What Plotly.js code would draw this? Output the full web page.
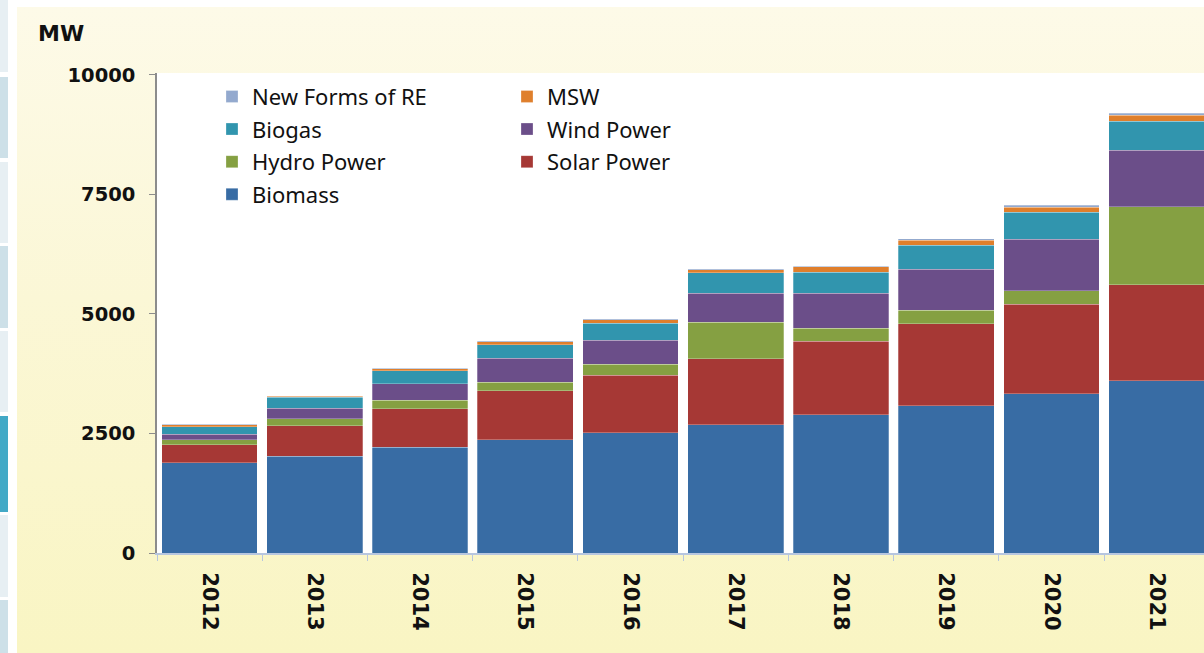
<!DOCTYPE html>
<html>
<head>
<meta charset="utf-8">
<script src="https://cdn.plot.ly/plotly-3.0.1.min.js"></script>
<style>
  html, body { margin: 0; padding: 0; width: 1204px; height: 653px; overflow: hidden; background: #ffffff; }
  #bg { position: absolute; left: 17px; top: 7px; right: 0; bottom: 0;
        background: linear-gradient(to bottom, #fdfae8 0%, #fbf7d6 45%, #f9f5c3 100%); }
  .strip { position: absolute; left: 0; width: 8px; }
  #chart { position: absolute; left: 0; top: 0; width: 1204px; height: 653px; }
</style>
</head>
<body>
<div id="bg"></div>
<div class="strip" style="top:0;height:72px;background:#e7eff3"></div>
<div class="strip" style="top:77px;height:81px;background:#cde0e8"></div>
<div class="strip" style="top:162px;height:81px;background:#e7eff3"></div>
<div class="strip" style="top:246px;height:82px;background:#cde0e8"></div>
<div class="strip" style="top:331px;height:81px;background:#e7eff3"></div>
<div class="strip" style="top:416px;height:96px;background:#42a9c6"></div>
<div class="strip" style="top:515px;height:82px;background:#e7eff3"></div>
<div class="strip" style="top:600px;height:53px;background:#cde0e8"></div>
<div id="chart"></div>
<script>
const years = ['2012','2013','2014','2015','2016','2017','2018','2019','2020','2021'];
const biomass = [1889, 2029, 2207, 2364, 2517, 2678, 2887, 3079, 3331, 3605];
const solar   = [377, 628, 810, 1031, 1201, 1385, 1544, 1715, 1877, 2008];
const hydro   = [98, 146, 178, 176, 230, 759, 266, 280, 280, 1634];
const wind    = [119, 230, 341, 502, 502, 607, 732, 858, 1079, 1182];
const biogas  = [159, 224, 272, 278, 356, 429, 444, 510, 561, 607];
const msw     = [40, 25, 42, 70, 75, 70, 110, 105, 105, 119];
const newre   = [10, 10, 15, 15, 15, 20, 20, 25, 40, 44];
const yTicks  = [0, 2500, 5000, 7500, 10000];

const series = [
  {name: 'Biomass',         y: biomass, color: '#386ca4', legend: 'legend',  rank: 4},
  {name: 'Solar Power',     y: solar,   color: '#a63835', legend: 'legend2', rank: 3},
  {name: 'Hydro Power',     y: hydro,   color: '#85a042', legend: 'legend',  rank: 3},
  {name: 'Wind Power',      y: wind,    color: '#6b4e89', legend: 'legend2', rank: 2},
  {name: 'Biogas',          y: biogas,  color: '#3195ae', legend: 'legend',  rank: 2},
  {name: 'MSW',             y: msw,     color: '#df7f2c', legend: 'legend2', rank: 1},
  {name: 'New Forms of RE', y: newre,   color: '#93a9ce', legend: 'legend',  rank: 1}
];

const traces = series.map(s => ({
  type: 'bar',
  x: years,
  y: s.y,
  name: s.name,
  legend: s.legend,
  legendgroup: s.name,
  legendrank: s.rank,
  marker: {color: s.color, line: {color: 'rgba(255,255,255,0.45)', width: 0.6}},
  hoverinfo: 'x+y+name'
}));

const legendFont = {family: 'Noto Sans, sans-serif', size: 22, color: '#111111'};
const xTickFont = {family: 'DejaVu Sans, sans-serif', size: 21, color: '#111111', weight: 'bold'};
const yTickFont = {family: 'DejaVu Sans, sans-serif', size: 19.5, color: '#111111', weight: 'bold'};

const layout = {
  width: 1204,
  height: 653,
  margin: {l: 157, r: 0, t: 73, b: 100},
  paper_bgcolor: 'rgba(0,0,0,0)',
  plot_bgcolor: '#ffffff',
  barmode: 'stack',
  bargap: 0.09,
  showlegend: true,
  xaxis: {
    type: 'category',
    range: [-0.5, 9.45],
    tickangle: 90,
    tickfont: xTickFont,
    ticks: 'outside',
    tickson: 'boundaries',
    ticklen: 6,
    tickcolor: '#b7c6df',
    showline: true,
    linecolor: '#b7c6df',
    linewidth: 2,
    showgrid: false,
    zeroline: false,
    ticklabelstandoff: 13,
    fixedrange: true
  },
  yaxis: {
    range: [0, 10040],
    tickvals: yTicks,
    ticktext: yTicks.map(String),
    tickfont: yTickFont,
    ticks: 'outside',
    ticklen: 6,
    tickcolor: '#8c8c8c',
    showline: true,
    linecolor: '#8c8c8c',
    linewidth: 1.5,
    showgrid: false,
    zeroline: false,
    ticklabelstandoff: 10,
    fixedrange: true
  },
  legend: {
    x: (212 - 157) / 1047, xanchor: 'left',
    y: 0.9945, yanchor: 'top',
    orientation: 'v',
    traceorder: 'grouped',
    tracegroupgap: 1,
    bgcolor: 'rgba(0,0,0,0)',
    borderwidth: 0,
    font: legendFont
  },
  legend2: {
    x: (507 - 157) / 1047, xanchor: 'left',
    y: 0.9945, yanchor: 'top',
    orientation: 'v',
    traceorder: 'grouped',
    tracegroupgap: 1,
    bgcolor: 'rgba(0,0,0,0)',
    borderwidth: 0,
    font: legendFont
  },
  annotations: [{
    text: 'MW',
    xref: 'paper', yref: 'paper',
    x: (36 - 157) / 1047, xanchor: 'left',
    y: 1 + (73 - 33) / 480, yanchor: 'middle',
    showarrow: false,
    font: {family: 'DejaVu Sans, sans-serif', size: 22, color: '#111111', weight: 'bold'}
  }]
};

Plotly.newPlot('chart', traces, layout, {displayModeBar: false});
</script>
</body>
</html>
